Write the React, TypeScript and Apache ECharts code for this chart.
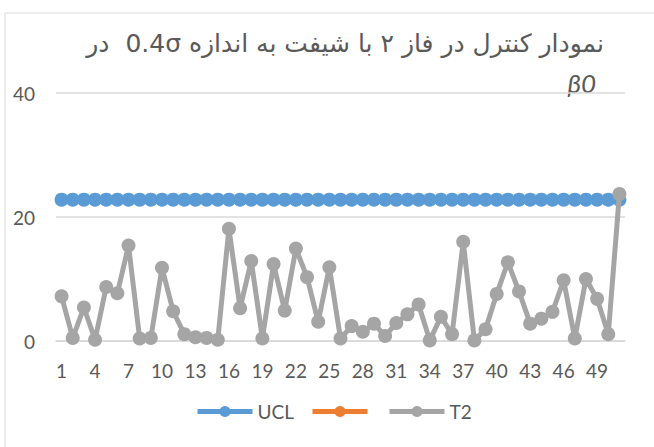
import React, { useEffect, useRef } from "react";
import * as echarts from "echarts";

const categories = [
  "1","2","3","4","5","6","7","8","9","10",
  "11","12","13","14","15","16","17","18","19","20",
  "21","22","23","24","25","26","27","28","29","30",
  "31","32","33","34","35","36","37","38","39","40",
  "41","42","43","44","45","46","47","48","49","50","51",
];

const uclValues = [
  22.8,22.8,22.8,22.8,22.8,22.8,22.8,22.8,22.8,22.8,
  22.8,22.8,22.8,22.8,22.8,22.8,22.8,22.8,22.8,22.8,
  22.8,22.8,22.8,22.8,22.8,22.8,22.8,22.8,22.8,22.8,
  22.8,22.8,22.8,22.8,22.8,22.8,22.8,22.8,22.8,22.8,
  22.8,22.8,22.8,22.8,22.8,22.8,22.8,22.8,22.8,22.8,22.8,
];

const orangeValues: (number | null)[] = [];

const t2Values = [
  7.2,0.5,5.4,0.2,8.7,7.7,15.4,0.4,0.5,11.8,
  4.8,1.1,0.6,0.5,0.2,18.1,5.3,12.9,0.4,12.4,
  4.9,14.9,10.3,3.1,11.9,0.4,2.4,1.5,2.8,0.8,
  2.9,4.3,5.9,0.1,3.9,1.1,16.0,0.1,1.9,7.6,
  12.7,8.0,2.8,3.6,4.7,9.8,0.4,10.0,6.8,1.1,23.7,
];

const legendNames = ["UCL", "\u200B", "T2"];

const titleLine1 = "\u202Bنمودار کنترل در فاز ۲ با شیفت به اندازه 0.4σ  در\u202C";
const titleLine2 = "β0";

const FONT = "Lato, 'Open Sans', sans-serif";

export default function App() {
  const ref = useRef<HTMLDivElement>(null);
  useEffect(() => {
    if (!ref.current) return;
    const chart = echarts.init(ref.current, undefined, { renderer: "svg" });
    const mkSeries = (name: string, color: string, data: (number | null)[], z: number) => ({
      name,
      type: "line",
      data,
      symbol: "circle",
      symbolSize: 14,
      showSymbol: true,
      showAllSymbol: true,
      z,
      lineStyle: { color, width: 5 },
      itemStyle: { color },
      emphasis: { disabled: true },
    });
    const legendLefts = [195, 310, 387];
    const mkLegend = (i: number) => ({
      left: legendLefts[i],
      top: 402,
      padding: 0,
      itemWidth: 55,
      itemHeight: 14,
      itemGap: 0,
      lineStyle: { width: 5 },
      textStyle: { fontFamily: FONT, fontSize: 19, color: "#595959" },
      data: [{ name: legendNames[i] }],
    });
    chart.setOption({
      animation: false,
      backgroundColor: "#ffffff",
      textStyle: { fontFamily: FONT },
      graphic: [
        {
          type: "rect",
          shape: { x: 5, y: 13, width: 700, height: 500 },
          style: { fill: "none", stroke: "#d9d9d9", lineWidth: 1 },
          silent: true,
        },
        {
          type: "text",
          x: 604,
          y: 43,
          style: {
            text: titleLine1,
            align: "right",
            verticalAlign: "middle",
            fontFamily: "'DejaVu Sans', sans-serif",
            fontSize: 25,
            fill: "#595959",
          },
        },
        {
          type: "text",
          x: 596,
          y: 83,
          style: {
            text: titleLine2,
            align: "right",
            verticalAlign: "middle",
            fontFamily: FONT,
            fontSize: 26,
            fontStyle: "italic",
            fill: "#595959",
          },
        },
      ],
      grid: { left: 56, right: 29, top: 93, bottom: 106, containLabel: false },
      legend: [mkLegend(0), mkLegend(1), mkLegend(2)],
      xAxis: {
        type: "category",
        data: categories,
        boundaryGap: true,
        axisLine: { show: true, lineStyle: { color: "#d9d9d9", width: 1.5 } },
        axisTick: { show: false },
        axisLabel: {
          interval: 2,
          margin: 20,
          color: "#595959",
          fontSize: 19,
          fontFamily: FONT,
        },
      },
      yAxis: {
        type: "value",
        min: 0,
        max: 40,
        interval: 20,
        axisLine: { show: false },
        axisTick: { show: false },
        splitLine: { lineStyle: { color: "#d9d9d9", width: 1.5 } },
        axisLabel: { margin: 21, color: "#595959", fontSize: 19, fontFamily: FONT },
      },
      series: [
        mkSeries(legendNames[0], "#5B9BD5", uclValues, 2),
        mkSeries(legendNames[1], "#ED7D31", orangeValues, 3),
        mkSeries(legendNames[2], "#A5A5A5", t2Values, 4),
      ],
    });
    return () => chart.dispose();
  }, []);
  return (
    <div
      ref={ref}
      style={{ position: "absolute", left: 0, top: 0, width: 654, height: 447 }}
    />
  );
}
